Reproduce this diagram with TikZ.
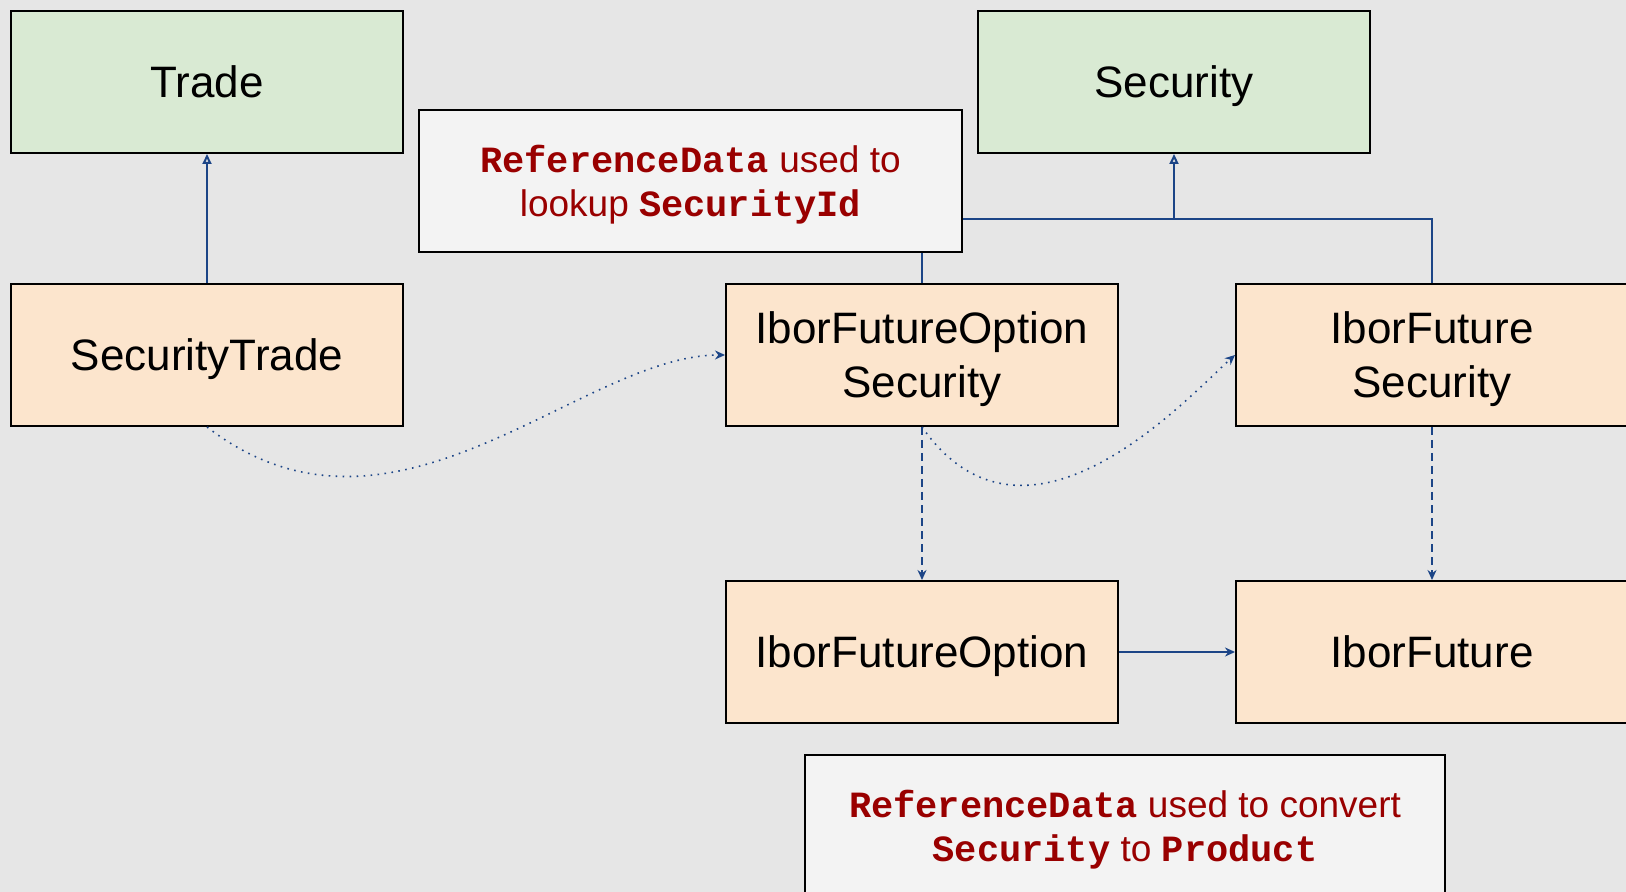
\documentclass[tikz,border=0pt]{standalone}
\usepackage{fontspec}
\setmainfont{Liberation Sans}
\setmonofont{Liberation Mono}
\usetikzlibrary{arrows.meta}
\definecolor{slidebg}{HTML}{E6E6E6}
\definecolor{basegreen}{HTML}{D9EAD3}
\definecolor{impl}{HTML}{FCE5CD}
\definecolor{notefill}{HTML}{F3F3F3}
\definecolor{notered}{HTML}{990000}
\definecolor{link}{HTML}{1C4587}
\newcommand{\code}[1]{{\ttfamily\bfseries #1}}
\tikzset{
    box/.style={draw=black,line width=1pt,minimum width=196pt,minimum height=71pt,
        align=center,font=\fontsize{22}{27}\selectfont,inner sep=0pt,text depth=0pt},
    basebox/.style={box,fill=basegreen},
    implbox/.style={box,fill=impl},
    notebox/.style={draw=black,line width=1pt,fill=notefill,align=center,
        text=notered,font=\fontsize{18.5}{21.8}\selectfont,inner sep=0pt,text depth=0pt},
    extends/.style={draw=link,line width=1pt,-{Triangle[open,length=5pt,width=4.5pt]}},
    uses/.style={draw=link,line width=0.8pt,dash pattern=on 0.8pt off 2.7pt,
        -{Stealth[length=5pt,width=4.5pt]}},
    converts/.style={draw=link,line width=0.8pt,dash pattern=on 4pt off 2.5pt,
        -{Stealth[length=5pt,width=4.5pt]}},
    refers/.style={draw=link,line width=1pt,-{Stealth[length=5pt,width=4.5pt]}}
}
\begin{document}
\begin{tikzpicture}[x=0.5pt,y=-0.5pt]
    \fill[slidebg](0,0)rectangle(1626,892);
    \useasboundingbox(0,0)rectangle(1626,892);
    \clip(0,0)rectangle(1626,892);
    \node[basebox] (trade) at (207,82) {Trade};
    \node[basebox] (security) at (1174,82) {Security};
    \node[implbox] (sectrade) at (207,355) {SecurityTrade};
    \node[implbox] (ifosec) at (922,355) {IborFutureOption\\Security};
    \node[implbox] (ifsec) at (1432,355) {IborFuture\\Security};
    \node[implbox] (ifo) at (922,652) {IborFutureOption};
    \node[implbox] (if) at (1432,652) {IborFuture};
    % security hierarchy
    \draw[extends](sectrade)--(trade);
    \coordinate (join) at (1174,219);
    \draw[draw=link,line width=1pt](ifosec.north)|-(join)-|(ifsec.north);
    \draw[extends](join)--(security);
    % reference data lookups
    \draw[uses](sectrade.south)..controls +(187,144) and +(-145,0)..(ifosec.west);
    \draw[uses](ifosec.south)..controls +(105,150) and +(-45,40)..(ifsec.west);
    \draw[converts](ifosec)--(ifo);
    \draw[converts](ifsec)--(if);
    \draw[refers](ifo)--(if);
    % notes
    \node[notebox,minimum width=271.5pt,minimum height=71pt] (lookup) at (690.5,181)
        {\code{ReferenceData} used to\\lookup \code{SecurityId}};
    \node[notebox,minimum width=320pt,minimum height=71.5pt] (convert) at (1125,826)
        {\code{ReferenceData} used to convert\\\code{Security} to \code{Product}};
\end{tikzpicture}
\end{document}
